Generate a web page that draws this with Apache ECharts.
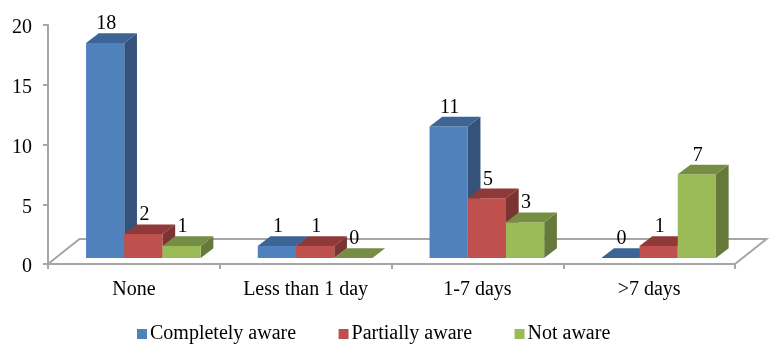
<!DOCTYPE html>
<html>
<head>
<meta charset="utf-8">
<style>
  html, body { margin: 0; padding: 0; background: #fff; }
  #chart { width: 774px; height: 363px; }
</style>
<script src="https://cdn.jsdelivr.net/npm/echarts@6/dist/echarts.min.js"></script>
</head>
<body>
<div id="chart"></div>
<script>
const categories = ["None", "Less than 1 day", "1-7 days", ">7 days"];
const completelyAware = [18, 1, 11, 0];
const partiallyAware = [2, 1, 5, 1];
const notAware = [1, 0, 3, 7];

const FONT = "'Liberation Serif', 'Times New Roman', serif";
const AXIS_COLOR = "#a6a6a6";

// fake 3D: how far the bars sit from the axis, and how deep they go
const BAR_SHIFT = [9.5, -6];
const DEPTH = [12.7, -9.7];
const FLOOR_DEPTH = [31.5, -25];
const BAR_RATIO = 0.2225;

const chart = echarts.init(document.getElementById("chart"));

function renderFloor(params, api) {
  const c = params.coordSys;
  const bottom = c.y + c.height;
  return {
    type: "polyline",
    silent: true,
    shape: {
      points: [
        [c.x, bottom],
        [c.x + FLOOR_DEPTH[0], bottom + FLOOR_DEPTH[1]],
        [c.x + c.width + FLOOR_DEPTH[0], bottom + FLOOR_DEPTH[1]],
        [c.x + c.width, bottom],
      ],
    },
    style: { fill: null, stroke: AXIS_COLOR, lineWidth: 2 },
  };
}

function barRenderer(index, colors) {
  return function (params, api) {
    const top = api.coord([api.value(0), api.value(1)]);
    const base = api.coord([api.value(0), 0]);
    const bw = api.size([1, 0])[0] * BAR_RATIO;
    const x0 = top[0] + BAR_SHIFT[0] + (index - 1.5) * bw;
    const x1 = x0 + bw;
    const y0 = top[1] + BAR_SHIFT[1];
    const y1 = base[1] + BAR_SHIFT[1];
    const dx = DEPTH[0];
    const dy = DEPTH[1];
    const poly = (points, fill) => ({
      type: "polygon",
      shape: { points: points },
      style: { fill: fill },
    });
    return {
      type: "group",
      children: [
        poly([[x1, y0], [x1 + dx, y0 + dy], [x1 + dx, y1 + dy], [x1, y1]], colors.side),
        poly([[x0, y1], [x1, y1], [x1, y0], [x0, y0]], colors.front),
        poly([[x0, y0], [x0 + dx, y0 + dy], [x1 + dx, y0 + dy], [x1, y0]], colors.top),
        {
          type: "text",
          z2: 10,
          style: {
            x: (x0 + x1) / 2 + 1,
            y: y0 - 19,
            text: String(api.value(1)),
            fill: "#000",
            font: "20px " + FONT,
            align: "center",
            verticalAlign: "middle",
          },
        },
      ],
    };
  };
}

function barSeries(name, values, index, colors) {
  return {
    name: name,
    type: "custom",
    itemStyle: { color: colors.front },
    renderItem: barRenderer(index, colors),
    data: values.map((v, i) => [i, v]),
    encode: { x: 0, y: 1 },
  };
}

const options = {
  backgroundColor: "#fff",
  animation: false,
  grid: { left: 48, right: 39, top: 25, height: 239 },
  legend: {
    left: 137,
    top: 324,
    padding: 0,
    itemWidth: 10,
    itemHeight: 10,
    itemGap: 42.5,
    icon: "rect",
    data: ["Completely aware", "Partially aware", "Not aware"],
    textStyle: { fontFamily: FONT, fontSize: 20, color: "#000", padding: [0, 0, 0, -2] },
  },
  xAxis: {
    type: "category",
    data: categories,
    axisLine: { lineStyle: { color: AXIS_COLOR, width: 2 } },
    axisTick: { show: true, length: 5, lineStyle: { color: AXIS_COLOR, width: 2 } },
    axisLabel: { fontFamily: FONT, fontSize: 20, color: "#000", margin: 16 },
  },
  yAxis: {
    type: "value",
    min: 0,
    max: 20,
    interval: 5,
    splitLine: { show: false },
    axisLine: { show: true, lineStyle: { color: AXIS_COLOR, width: 2 } },
    axisTick: { show: true, length: 5, lineStyle: { color: AXIS_COLOR, width: 2 } },
    axisLabel: {
      fontFamily: FONT,
      fontSize: 20,
      color: "#000",
      margin: 16,
      verticalAlign: "top",
      lineHeight: 6,
    },
  },
  series: [
    {
      type: "custom",
      silent: true,
      renderItem: renderFloor,
      data: [[0, 0]],
    },
    barSeries("Completely aware", completelyAware, 0, { front: "#4f81bd", top: "#3c6494", side: "#34527a" }),
    barSeries("Partially aware", partiallyAware, 1, { front: "#c0504d", top: "#8f3a38", side: "#7c3433" }),
    barSeries("Not aware", notAware, 2, { front: "#9bbb59", top: "#758e44", side: "#65793a" }),
  ],
};

chart.setOption(options);
</script>
</body>
</html>
